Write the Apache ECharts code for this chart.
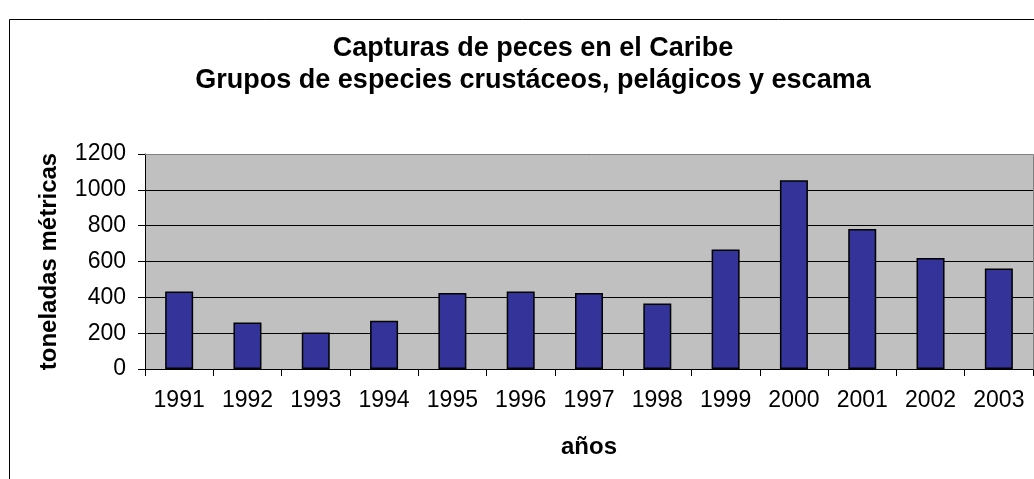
<!DOCTYPE html>
<html>
<head>
<meta charset="utf-8">
<script src="https://cdn.jsdelivr.net/npm/echarts@6/dist/echarts.min.js"></script>
<style>
html,body{margin:0;padding:0;background:#fff;}
#chart{width:1034px;height:479px;}
</style>
</head>
<body>
<div id="chart"></div>
<script>
const titleText = 'Capturas de peces en el Caribe\nGrupos de especies crustáceos, pelágicos y escama';
const xAxisName = 'años';
const yAxisName = 'toneladas métricas';
const years = ['1991','1992','1993','1994','1995','1996','1997','1998','1999','2000','2001','2002','2003'];
const capturas = [433, 260, 204, 269, 424, 432, 424, 366, 667, 1054, 782, 619, 561];
const yTicks = [0, 200, 400, 600, 800, 1000, 1200];

const FONT = '"Liberation Sans", Arial, sans-serif';
const chart = echarts.init(document.getElementById('chart'), null, {renderer: 'canvas'});
chart.setOption({
  animation: false,
  backgroundColor: '#ffffff',
  graphic: [{
    type: 'rect', left: 9, top: 19, z: -10,
    shape: {x: 0, y: 0, width: 1100, height: 600},
    style: {fill: '#ffffff', stroke: '#000000', lineWidth: 1}
  }, {
    type: 'polyline', z: 1,
    shape: {points: [[145, 154.5], [1033.5, 154.5], [1033.5, 369.5]]},
    style: {stroke: '#808080', lineWidth: 1, fill: null}
  }],
  title: {
    text: titleText,
    left: 528,
    top: 28,
    textAlign: 'center',
    textStyle: {fontFamily: FONT, fontSize: 27, fontWeight: 'bold', color: '#000', lineHeight: 32}
  },
  grid: {left: 145, right: 1, top: 154, bottom: 110, show: true, backgroundColor: '#c0c0c0', borderWidth: 0},
  xAxis: {
    type: 'category',
    data: years,
    name: xAxisName,
    nameLocation: 'middle',
    nameGap: 66,
    nameTextStyle: {fontFamily: FONT, fontSize: 24, fontWeight: 'bold', color: '#000'},
    axisLine: {lineStyle: {color: '#000', width: 1}},
    axisTick: {show: true, alignWithLabel: false, length: 7, lineStyle: {color: '#000'}},
    axisLabel: {fontFamily: FONT, fontSize: 23, color: '#000', margin: 20, interval: 0}
  },
  yAxis: {
    type: 'value',
    min: yTicks[0],
    max: yTicks[yTicks.length - 1],
    interval: 200,
    name: yAxisName,
    nameLocation: 'middle',
    nameGap: 84,
    nameTextStyle: {fontFamily: FONT, fontSize: 24, fontWeight: 'bold', color: '#000'},
    axisLine: {show: true, lineStyle: {color: '#000', width: 1}},
    axisTick: {show: true, length: 7, lineStyle: {color: '#000'}},
    axisLabel: {fontFamily: FONT, fontSize: 23, color: '#000', margin: 19, formatter: v => String(v)},
    splitLine: {show: true, lineStyle: {color: '#000', width: 1}}
  },
  series: [{
    type: 'bar',
    data: capturas,
    barWidth: 28,
    itemStyle: {color: '#333399', borderColor: '#000', borderWidth: 1.5}
  }]
});
</script>
</body>
</html>
